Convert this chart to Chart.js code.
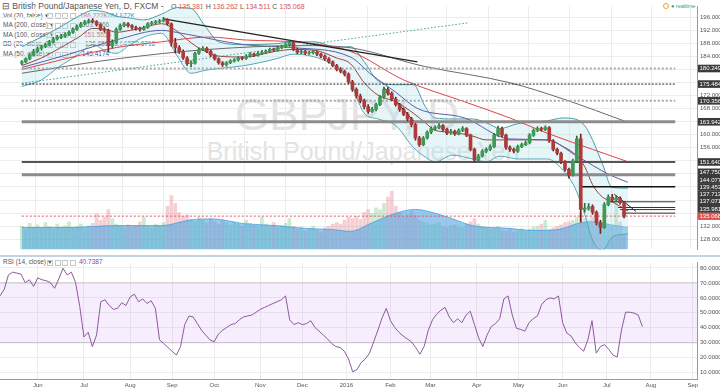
<!DOCTYPE html>
<html>
<head>
<meta charset="utf-8">
<script src="https://cdn.jsdelivr.net/npm/chart.js@4.4.0/dist/chart.umd.min.js"></script>
<style>
  html, body { margin: 0; padding: 0; background: #fff; }
  #wrap { position: relative; width: 720px; height: 388px; overflow: hidden; font-family: "Liberation Sans", Arial, sans-serif; }
  canvas { position: absolute; left: 0; z-index: 1; }
  #price { top: 0; }
  #rsi { top: 256px; }
  .wm { position: absolute; color: #e3e3e3; white-space: nowrap; line-height: 1; transform: translateX(-50%); z-index: 0; }
  .t { position: absolute; white-space: nowrap; color: #555; line-height: 1; z-index: 0; }
  .sq { position: absolute; width: 4px; height: 4px; border: 1px solid #c6c6c6; z-index: 0; }
  .red { color: #d9534f; }
  #sep { position: absolute; left: 0; top: 255px; width: 720px; height: 2px; background: #c3d3e3; z-index: 2; }
</style>
</head>
<body>
<div id="wrap">
  <div class="wm" style="left:347px; top:93px; font-size:44px;">GBPJPY, D</div>
  <div class="wm" style="left:363px; top:139px; font-size:25px;">British Pound/Japanese Yen</div>

  <div class="t" style="left:2px; top:2px; font-size:8.5px;">&#8863; British Pound/Japanese Yen, D, FXCM -</div>
  <div class="t" style="left:171px; top:3px; font-size:7px;">O <span class="red">135.381</span> H <span class="red">136.262</span> L <span class="red">134.511</span> C <span class="red">135.068</span></div>
  <div class="t" style="left:3px; top:12.5px; font-size:6.5px;">Vol (20, false) &#9662;</div>
  <div class="t red" style="left:80px; top:12.5px; font-size:6.5px;">186.222K</div>
  <div class="t" style="left:107px; top:12.5px; font-size:6.5px; color:#3a90d0;">284.872K</div>
  <div class="t" style="left:3px; top:22px; font-size:6.5px;">MA (200, close) &#9662;</div>
  <div class="t" style="left:82px; top:22px; font-size:6.5px; color:#666;">163.7766</div>
  <div class="t" style="left:3px; top:31.5px; font-size:6.5px;">MA (100, close) &#9662;</div>
  <div class="t" style="left:84px; top:31.5px; font-size:6.5px; color:#d9534f;">151.5556</div>
  <div class="t" style="left:3px; top:41px; font-size:6.5px;">BB (20, close, 2) &#9662;</div>
  <div class="t" style="left:85px; top:41px; font-size:6.5px; color:#9a3a3a;">136.6564</div>
  <div class="t" style="left:107px; top:41px; font-size:6.5px; color:#2f8f95;">143.6412</div>
  <div class="t" style="left:128px; top:41px; font-size:6.5px; color:#2f8f95;">129.6716</div>
  <div class="t" style="left:3px; top:51px; font-size:6.5px;">MA (50, close) &#9662;</div>
  <div class="t" style="left:82px; top:51px; font-size:6.5px; color:#4a4ea0;">145.4174</div>

  <div class="t" style="left:3px; top:259px; font-size:6.5px;">RSI (14, close) &#9662;</div>
  <div class="t" style="left:79px; top:259px; font-size:6.5px; color:#8a4a9a;">40.7387</div>

  <div class="t" style="left:663px; top:3px; width:4px; height:4px; border:1px solid #f0a030; border-radius:50%;"></div>
  <div class="t" style="left:671px; top:3.5px; font-size:5.5px; color:#3a9a6a;">&#9679; realtime</div>
  <div id="sep"></div>

  <canvas id="price" width="720" height="256"></canvas>
  <canvas id="rsi" width="720" height="132"></canvas>
</div>
<script>
// time axis (trading-day index)
const monthLabels = ['Jun', 'Jul', 'Aug', 'Sep', 'Oct', 'Nov', 'Dec', '2016', 'Feb', 'Mar', 'Apr', 'May', 'Jun', 'Jul', 'Aug', 'Sep'];
const monthDays = [18, 40, 62, 82, 102, 124, 144, 165, 186, 205, 227, 247, 268, 289, 310, 330];
const lastDay = 332;
const daysPerBar = 2;

// candles, one per two trading days
const opens = [181.90, 182.30, 183.18, 184.34, 185.51, 186.38, 186.96, 187.55, 188.42, 189.30,
  189.88, 190.17, 190.75, 191.34, 192.21, 193.09, 193.96, 194.54, 194.83, 194.60,
  193.67, 192.21, 191.92, 187.26, 188.13, 192.21, 193.38, 193.96, 193.38, 192.79,
  192.50, 192.21, 192.79, 193.96, 194.25, 194.54, 194.83, 195.13, 193.96, 188.13,
  186.67, 185.51, 183.47, 181.72, 181.90, 184.92, 186.09, 186.38, 185.51, 184.34,
  183.18, 182.01, 181.43, 182.01, 182.59, 182.88, 183.47, 183.30, 184.05, 184.63,
  184.34, 184.92, 185.22, 185.51, 186.09, 185.90, 186.67, 186.96, 187.55, 188.13,
  186.09, 185.22, 185.40, 184.92, 185.10, 185.22, 184.63, 184.05, 183.18, 182.30,
  181.14, 179.97, 179.39, 178.51, 176.18, 173.85, 171.81, 170.35, 168.60, 167.15,
  167.73, 169.19, 171.52, 173.85, 172.68, 170.93, 169.19, 167.73, 166.27, 164.81,
  163.06, 158.98, 156.95, 158.98, 160.73, 161.90, 162.19, 162.77, 161.61, 160.44,
  161.03, 160.15, 161.32, 161.90, 159.86, 155.49, 152.28, 153.45, 154.91, 155.49,
  156.36, 159.86, 161.90, 159.86, 156.07, 155.49, 154.91, 156.36, 156.95, 157.53,
  159.86, 161.32, 161.90, 161.60, 162.19, 158.11, 155.49, 154.32, 151.70, 149.37,
  147.62, 151.99, 158.69, 137.10, 137.42, 138.00, 136.25, 133.03, 131.59, 138.58,
  140.91, 140.04, 140.62, 139.16];
const highs = [182.70, 183.50, 184.80, 186.10, 186.90, 187.40, 188.00, 188.90, 189.80, 190.40,
  190.70, 191.20, 191.80, 192.70, 193.60, 194.40, 195.00, 195.40, 195.50, 194.90,
  194.00, 192.80, 192.30, 189.00, 192.70, 193.90, 194.40, 194.30, 193.70, 193.20,
  192.90, 193.20, 194.30, 194.70, 195.00, 195.30, 195.88, 195.50, 194.20, 189.50,
  187.30, 186.00, 183.90, 182.60, 185.30, 186.60, 187.00, 186.80, 185.90, 184.70,
  183.50, 182.40, 182.40, 183.00, 183.30, 183.90, 183.90, 184.50, 185.10, 185.00,
  185.40, 185.70, 185.90, 186.50, 186.50, 187.10, 187.40, 188.00, 188.80, 188.40,
  186.50, 185.90, 185.80, 185.60, 185.70, 185.60, 185.00, 184.40, 183.60, 182.60,
  181.50, 180.50, 179.80, 178.90, 176.60, 174.30, 172.40, 170.90, 169.20, 168.40,
  169.70, 172.00, 174.60, 174.40, 173.10, 171.50, 169.60, 168.20, 166.80, 165.30,
  163.50, 159.50, 159.40, 161.20, 162.40, 162.70, 163.40, 163.10, 162.00, 161.60,
  161.40, 161.80, 162.50, 162.20, 160.20, 155.90, 154.00, 155.40, 156.00, 156.90,
  160.40, 162.60, 162.30, 160.20, 156.60, 155.90, 156.80, 157.40, 158.00, 160.30,
  161.80, 162.40, 162.30, 162.70, 162.50, 158.50, 155.90, 154.70, 152.10, 149.80,
  152.50, 159.60, 160.20, 139.00, 138.90, 138.50, 136.70, 133.80, 139.20, 141.60,
  141.70, 141.30, 141.00, 139.50];
const lows = [181.40, 182.00, 182.90, 184.00, 185.20, 185.90, 186.60, 187.20, 188.00, 188.90,
  189.40, 189.80, 190.30, 191.00, 191.90, 192.80, 193.60, 194.10, 194.20, 193.30,
  191.80, 191.40, 185.40, 186.50, 187.80, 191.90, 193.00, 192.90, 192.30, 192.00,
  191.70, 191.90, 192.50, 193.60, 193.90, 194.20, 194.50, 193.50, 187.10, 185.00,
  184.90, 183.00, 181.20, 180.80, 181.60, 184.60, 185.70, 185.10, 183.90, 182.80,
  181.60, 180.90, 181.00, 181.70, 182.20, 182.50, 182.90, 183.00, 183.70, 183.90,
  184.00, 184.60, 184.90, 185.20, 185.50, 185.60, 186.30, 186.60, 187.20, 185.70,
  184.80, 184.80, 184.50, 184.60, 184.70, 184.20, 183.60, 182.70, 181.90, 180.70,
  179.50, 178.90, 178.00, 175.60, 173.20, 171.20, 169.70, 167.90, 166.50, 166.80,
  167.30, 168.90, 171.10, 172.10, 170.40, 168.70, 167.10, 165.80, 164.20, 162.40,
  158.30, 156.40, 156.60, 158.60, 160.30, 161.40, 161.80, 161.10, 160.00, 160.10,
  159.80, 159.90, 160.90, 159.40, 155.00, 151.70, 151.90, 153.10, 154.50, 155.10,
  156.00, 159.50, 159.30, 155.50, 154.90, 154.40, 154.60, 156.00, 156.60, 157.20,
  159.50, 160.90, 161.10, 161.20, 157.60, 155.00, 153.80, 151.10, 148.80, 146.70,
  147.30, 151.60, 133.20, 136.30, 136.90, 135.60, 132.40, 129.80, 131.30, 138.20,
  139.40, 139.70, 138.70, 134.51];
const closes = [182.30, 183.18, 184.34, 185.51, 186.38, 186.96, 187.55, 188.42, 189.30, 189.88,
  190.17, 190.75, 191.34, 192.21, 193.09, 193.96, 194.54, 194.83, 194.60, 193.67,
  192.21, 191.92, 187.26, 188.13, 192.21, 193.38, 193.96, 193.38, 192.79, 192.50,
  192.21, 192.79, 193.96, 194.25, 194.54, 194.83, 195.13, 193.96, 188.13, 186.67,
  185.51, 183.47, 181.72, 181.90, 184.92, 186.09, 186.38, 185.51, 184.34, 183.18,
  182.01, 181.43, 182.01, 182.59, 182.88, 183.47, 183.30, 184.05, 184.63, 184.34,
  184.92, 185.22, 185.51, 186.09, 185.90, 186.67, 186.96, 187.55, 188.13, 186.09,
  185.22, 185.40, 184.92, 185.10, 185.22, 184.63, 184.05, 183.18, 182.30, 181.14,
  179.97, 179.39, 178.51, 176.18, 173.85, 171.81, 170.35, 168.60, 167.15, 167.73,
  169.19, 171.52, 173.85, 172.68, 170.93, 169.19, 167.73, 166.27, 164.81, 163.06,
  158.98, 156.95, 158.98, 160.73, 161.90, 162.19, 162.77, 161.61, 160.44, 161.03,
  160.15, 161.32, 161.90, 159.86, 155.49, 152.28, 153.45, 154.91, 155.49, 156.36,
  159.86, 161.90, 159.86, 156.07, 155.49, 154.91, 156.36, 156.95, 157.53, 159.86,
  161.32, 161.90, 161.60, 162.19, 158.11, 155.49, 154.32, 151.70, 149.37, 147.62,
  151.99, 158.69, 137.10, 137.42, 138.00, 136.25, 133.03, 131.59, 138.58, 140.91,
  140.04, 140.62, 139.16, 135.07];
// volume in thousands, per candle
const volumes = [300, 260, 340, 290, 320, 280, 350, 300, 270, 330,
  290, 310, 360, 280, 300, 330, 270, 310, 340, 460,
  380, 420, 520, 400, 330, 300, 280, 320, 290, 310,
  360, 420, 300, 280, 330, 310, 350, 560, 700, 600,
  480, 430, 450, 390, 360, 420, 380, 340, 400, 360,
  330, 380, 350, 320, 360, 330, 300, 380, 340, 310,
  290, 420, 330, 300, 350, 280, 310, 340, 400, 300,
  260, 290, 240, 270, 300, 250, 230, 280, 300, 330,
  350, 330, 380, 420, 400, 430, 390, 480, 520, 470,
  540, 520, 600, 680, 760, 560, 480, 420, 450, 500,
  440, 380, 360, 340, 320, 330, 350, 300, 280, 310,
  320, 290, 280, 330, 360, 400, 330, 300, 280, 260,
  270, 300, 250, 240, 260, 230, 250, 270, 240, 260,
  290, 300, 330, 380, 260, 280, 300, 320, 350, 360,
  380, 420, 480, 400, 380, 420, 460, 360, 340, 320,
  300, 650, 360, 186];
const rsiValues = [61.3, 65.7, 75.3, 77.2, 76.6, 75.9, 70.2, 72.1, 67.6, 73.4,
  72.1, 71.5, 70.2, 66.4, 72.7, 79.8, 75.3, 77.2, 70.2, 54.2,
  33.8, 37.0, 27.4, 35.1, 57.4, 58.7, 54.9, 52.3, 53.0, 56.8,
  54.9, 60.6, 62.5, 57.4, 59.3, 56.2, 58.1, 53.0, 31.9, 29.4,
  26.8, 24.3, 21.7, 27.4, 42.1, 47.9, 47.2, 42.8, 38.3, 35.1,
  31.9, 30.6, 35.7, 38.3, 40.2, 42.1, 42.8, 45.3, 47.2, 47.9,
  48.5, 50.4, 52.3, 53.6, 54.9, 56.2, 57.4, 58.7, 61.3, 45.3,
  42.1, 43.4, 42.1, 42.8, 44.7, 40.2, 37.7, 35.1, 32.5, 29.4,
  27.4, 26.8, 24.3, 19.1, 10.5, 12.0, 16.6, 19.1, 23.0, 30.6,
  38.3, 46.6, 53.0, 44.7, 40.2, 37.0, 34.5, 32.5, 30.6, 26.8,
  22.3, 27.4, 38.3, 45.3, 49.1, 51.7, 53.6, 47.2, 43.4, 46.0,
  43.4, 48.5, 51.1, 42.1, 33.2, 27.4, 35.1, 40.8, 42.8, 46.0,
  59.3, 61.3, 48.5, 39.6, 38.9, 37.7, 43.4, 46.0, 47.9, 55.5,
  58.7, 60.0, 59.3, 61.3, 43.4, 36.4, 34.5, 30.0, 26.8, 24.3,
  31.9, 44.7, 23.0, 27.4, 28.7, 25.5, 21.7, 20.4, 38.3, 50.4,
  50.4, 49.8, 48.5, 40.74];

// indicators, read at sample days
const ma50Days = [0, 24, 48, 71, 81, 113, 137, 167, 178, 190, 201, 225, 248, 267, 282, 299, 308];
const ma50 = [180.55, 184.63, 189.00, 191.92, 191.05, 187.55, 186.67, 183.76, 178.20, 173.00, 168.02, 165.11, 158.69, 158.40, 153.45, 147.62, 145.42];
const ma100Days = [0, 48, 71, 95, 113, 144, 167, 194, 225, 248, 267, 290, 308];
const ma100 = [179.97, 186.67, 188.42, 189.88, 189.00, 188.13, 185.51, 176.76, 170.06, 165.11, 160.44, 155.49, 151.70];
const ma200Days = [0, 48, 95, 143, 162, 205, 248, 275, 308];
const ma200 = [178.80, 183.18, 186.09, 187.26, 186.96, 180.84, 175.89, 170.93, 163.78];
const bbDays = [0, 10, 19, 29, 36, 43, 48, 55, 62, 71, 79, 86, 93, 100, 113, 129, 138, 149, 160, 167,
  174, 181, 190, 199, 205, 210, 219, 229, 236, 243, 252, 267, 275, 281, 286, 290, 295, 300, 308];
const bbUpper = [186.96, 189.88, 192.79, 196.29, 198.04, 197.46, 196.29, 195.71, 195.13, 196.87,
  198.91, 198.62, 193.38, 188.42, 187.55, 187.84, 188.42, 188.42, 186.67, 186.96,
  182.30, 176.47, 175.31, 175.31, 168.60, 165.11, 164.81, 164.81, 163.65, 161.90,
  163.36, 164.23, 165.11, 164.81, 162.77, 158.40, 151.11, 143.83, 143.64];
const bbBasis = [181.14, 183.47, 186.38, 189.88, 192.50, 192.21, 191.34, 191.92, 192.79, 193.96,
  191.63, 188.13, 185.51, 184.05, 183.76, 185.51, 186.09, 185.80, 183.47, 181.72,
  175.89, 172.10, 170.06, 166.56, 163.65, 161.32, 160.73, 159.57, 158.40, 158.40,
  158.40, 158.40, 156.36, 154.03, 150.24, 144.70, 140.91, 139.46, 136.66];
const bbLower = [174.72, 176.76, 180.84, 184.63, 187.55, 185.50, 184.90, 187.55, 189.88, 191.05,
  184.05, 178.80, 179.68, 180.26, 181.14, 183.18, 184.63, 183.76, 180.55, 175.89,
  166.56, 164.81, 162.77, 156.07, 153.16, 151.70, 153.74, 152.57, 151.70, 153.45,
  152.57, 152.57, 149.07, 143.83, 135.67, 127.79, 124.59, 128.67, 129.67];
const volMaDays = [0, 24, 48, 71, 86, 97, 113, 129, 144, 157, 167, 178, 190, 200, 210, 219, 229, 248, 259, 267, 275, 282, 290, 299, 308];
const volMa = [285, 285, 310, 310, 385, 397, 335, 310, 273, 260, 236, 347, 471, 521, 471, 397, 310, 273, 248, 248, 273, 335, 360, 322, 285];

// drawn levels and trend lines
const levelPrices = [180.249, 175.484, 170.356, 163.942, 151.640, 147.750, 144.077, 139.453, 137.713, 137.071, 135.981];
const levelFrom = [0, 0, 0, 0, 0, 0, 284, 298, 303, 304, 305];
const lastPrice = 135.068;
const trendDays = [[72, 201], [0, 227], [184, 199], [301, 312]];
const trendPrices = [[195.42, 182.30], [175.74, 194.25], [174.43, 164.23], [141.79, 136.54]];

const levelStyles = [
  { color: '#a8a8a8', width: 2, dash: [2, 2] },
  { color: '#222', width: 1, dash: [2, 1.5] },
  { color: '#a8a8a8', width: 2, dash: [2, 2] },
  { color: '#8c8c8c', width: 3, dash: [] },
  { color: '#555', width: 2, dash: [] },
  { color: '#8c8c8c', width: 3, dash: [] },
  { color: '#111', width: 1.5, dash: [] },
  { color: '#333', width: 1, dash: [] },
  { color: '#333', width: 1, dash: [] },
  { color: '#333', width: 1, dash: [] },
  { color: '#333', width: 1, dash: [] }
];
const trendStyles = [
  { color: '#222', width: 1.3, dash: [] },
  { color: '#3aa0a0', width: 1, dash: [1.5, 2] },
  { color: '#222', width: 1, dash: [] },
  { color: '#222', width: 1, dash: [] }
];

const upColor = '#3f9a55', downColor = '#b03a3a';
const upWick = '#2a6a3a', downWick = '#6b2424';
const grid = '#ececec';

Chart.defaults.font.family = '"Liberation Sans", Arial, sans-serif';
Chart.defaults.font.size = 6;
Chart.defaults.color = '#555';

const isUp = i => closes[i] >= opens[i];
const pts = (days, vals) => days.map((d, i) => ({ x: d, y: vals[i] }));
const flat = (from, v) => [{ x: from, y: v }, { x: lastDay, y: v }];
const line = (data, color, width, extra) => Object.assign({
  type: 'line', data, yAxisID: 'y', borderColor: color, borderWidth: width,
  pointRadius: 0, fill: false, tension: 0
}, extra || {});
const smooth = { cubicInterpolationMode: 'monotone' };

const priceDatasets = [
  {
    type: 'bar', yAxisID: 'y', grouped: false, barThickness: 3, minBarLength: 1, order: 1,
    data: closes.map((c, i) => ({ x: i * daysPerBar, y: [opens[i], c] })),
    backgroundColor: c => isUp(c.dataIndex) ? upColor : downColor
  },
  {
    type: 'bar', yAxisID: 'y', grouped: false, barThickness: 1, order: 2,
    data: closes.map((c, i) => ({ x: i * daysPerBar, y: [lows[i], highs[i]] })),
    backgroundColor: c => isUp(c.dataIndex) ? upWick : downWick
  },
  ...trendDays.map((d, i) => line(pts(d, trendPrices[i]), trendStyles[i].color, trendStyles[i].width,
    { borderDash: trendStyles[i].dash, order: 3 })),
  ...levelPrices.map((v, i) => line(flat(levelFrom[i], v), levelStyles[i].color, levelStyles[i].width,
    { borderDash: levelStyles[i].dash, order: 4 })),
  line(flat(0, lastPrice), '#e0505a', 1, { borderDash: [2, 2], order: 4 }),
  line(pts(ma200Days, ma200), '#6a6a6a', 1, Object.assign({ order: 5 }, smooth)),
  line(pts(ma100Days, ma100), '#dd4444', 1, Object.assign({ order: 5 }, smooth)),
  line(pts(ma50Days, ma50), '#5a5ea8', 1, Object.assign({ order: 5 }, smooth)),
  line(pts(bbDays, bbBasis), '#9a4040', 1, Object.assign({ order: 5 }, smooth)),
  line(pts(bbDays, bbUpper), '#4b9ea5', 1, Object.assign({ order: 6, fill: '+1', backgroundColor: 'rgba(170,222,232,0.3)' }, smooth)),
  line(pts(bbDays, bbLower), '#4b9ea5', 1, Object.assign({ order: 6 }, smooth)),
  {
    type: 'line', yAxisID: 'yVol', order: 7, data: pts(volMaDays, volMa), pointRadius: 0,
    borderColor: 'rgba(70,160,220,0.8)', borderWidth: 1, fill: 'origin',
    backgroundColor: 'rgba(80,165,225,0.6)', cubicInterpolationMode: 'monotone'
  },
  {
    type: 'bar', yAxisID: 'yVol', grouped: false, barThickness: 3, order: 8,
    data: volumes.map((v, i) => ({ x: i * daysPerBar, y: v })),
    backgroundColor: c => isUp(c.dataIndex) ? 'rgba(120,200,130,0.38)' : 'rgba(230,130,140,0.38)'
  }
];

const allLevels = levelPrices.concat([lastPrice]);

const tagPlugin = {
  id: 'tags',
  afterDraw(chart) {
    const y = chart.scales.y, ctx = chart.ctx, left = chart.chartArea.right + 1;
    const tags = levelPrices.map(v => ({ v, bg: '#3b3b3b' })).concat([{ v: lastPrice, bg: '#d9534f' }]);
    tags.forEach(t => { t.py = y.getPixelForValue(t.v); });
    tags.sort((a, b) => b.py - a.py);
    for (let i = 1; i < tags.length; i++) tags[i].py = Math.min(tags[i].py, tags[i - 1].py - 7.3);
    ctx.save();
    ctx.font = '6px "Liberation Sans", Arial, sans-serif';
    ctx.textBaseline = 'middle';
    tags.forEach(t => {
      ctx.fillStyle = t.bg;
      ctx.fillRect(left, t.py - 3.8, 22, 7.6);
      ctx.fillStyle = '#fff';
      ctx.fillText(t.v.toFixed(3), left + 1.5, t.py + 0.3);
    });
    ctx.restore();
  }
};

const monthTicks = s => { s.ticks = monthDays.map(v => ({ value: v })); };

new Chart('price', {
  type: 'bar',
  data: { datasets: priceDatasets },
  options: {
    responsive: false, animation: false, events: [],
    layout: { autoPadding: false, padding: { top: 0, bottom: 1, left: 0, right: 0 } },
    plugins: { legend: { display: false }, tooltip: { enabled: false } },
    scales: {
      x: {
        type: 'linear', min: 0, max: lastDay,
        ticks: { display: false }, grid: { color: grid, drawTicks: false }, border: { display: false },
        afterBuildTicks: monthTicks, afterFit: s => { s.height = 0; }
      },
      y: {
        position: 'right', min: 124.88, max: 199.2,
        ticks: {
          stepSize: 4, includeBounds: false, autoSkip: false, padding: 3,
          callback: v => allLevels.some(l => Math.abs(l - v) < 1.5) ? '' : v.toFixed(3)
        },
        grid: { color: grid, drawTicks: false }, border: { color: '#9a9a9a' },
        afterFit: s => { s.width = 23; }
      },
      yVol: { display: false, min: 0, max: 3162 }
    }
  },
  plugins: [tagPlugin]
});

new Chart('rsi', {
  type: 'line',
  data: {
    datasets: [
      {
        data: rsiValues.map((v, i) => ({ x: i * daysPerBar, y: v })),
        borderColor: '#8e5a9e', borderWidth: 1, pointRadius: 0, fill: false, tension: 0, order: 1
      },
      {
        data: flat(0, 70), borderColor: 'rgba(170,170,170,0.6)', borderWidth: 1, pointRadius: 0,
        fill: '+1', backgroundColor: 'rgba(200,140,240,0.16)', order: 3
      },
      { data: flat(0, 30), borderColor: 'rgba(170,170,170,0.6)', borderWidth: 1, pointRadius: 0, fill: false, order: 3 }
    ]
  },
  options: {
    responsive: false, animation: false, events: [],
    layout: { autoPadding: false, padding: { top: 1, bottom: 0, left: 0, right: 0 } },
    plugins: { legend: { display: false }, tooltip: { enabled: false } },
    scales: {
      x: {
        type: 'linear', min: 0, max: lastDay,
        ticks: {
          autoSkip: false, maxRotation: 0, padding: 3,
          callback: v => { const k = monthDays.indexOf(v); return k < 0 ? '' : monthLabels[k]; }
        },
        grid: { color: grid, drawTicks: false }, border: { color: '#9a9a9a' },
        afterBuildTicks: monthTicks, afterFit: s => { s.height = 9; }
      },
      y: {
        position: 'right', min: 5.7, max: 83.6,
        ticks: { stepSize: 10, includeBounds: false, autoSkip: false, padding: 3, callback: v => v.toFixed(4) },
        grid: { color: grid, drawTicks: false }, border: { color: '#9a9a9a' },
        afterFit: s => { s.width = 23; }
      }
    }
  }
});

// small icon boxes next to the legend rows
[12.5, 22, 31.5, 41, 51, 259].forEach(top => {
  for (let i = 0; i < 4; i++) {
    const d = document.createElement('div');
    d.className = 'sq';
    d.style.left = (47 + i * 7.5) + 'px';
    d.style.top = (top + 0.5) + 'px';
    document.getElementById('wrap').appendChild(d);
  }
});
</script>
</body>
</html>
